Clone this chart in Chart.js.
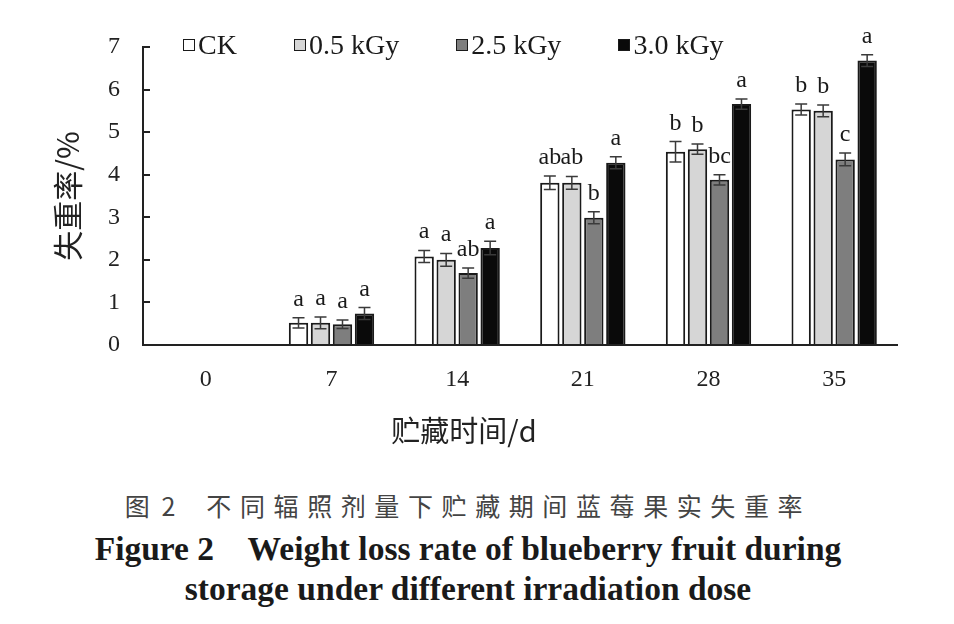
<!DOCTYPE html>
<html>
<head>
<meta charset="utf-8">
<script src="https://cdn.jsdelivr.net/npm/chart.js@4/dist/chart.umd.min.js"></script>
<style>
    body { margin: 0; background: #fff; }
    #wrap { position: relative; width: 954px; height: 624px; overflow: hidden; background: #fff; }
    #chartBox { position: absolute; left: 0; top: 0; width: 954px; height: 470px; }
    #legend { position: absolute; left: 183px; top: 29px; display: flex; gap: 57px;
        font-family: "Liberation Serif", "Times New Roman", serif; font-size: 28px; color: #1a1a1a; }
    #legend .item { display: flex; align-items: center; }
    #legend .box { width: 10px; height: 10px; border: 1.8px solid #1a1a1a; margin-right: 3px; }
    #xTitle { position: absolute; top: 408px; left: 0; width: 928px; text-align: center;
        font-family: "Noto Sans CJK SC", sans-serif; font-size: 29px; color: #222; }
    .cap { position: absolute; left: 0; width: 936px; text-align: center; white-space: nowrap; }
    #cap1 { top: 487px; font-family: "Noto Sans CJK SC", sans-serif; font-size: 25px; color: #444; letter-spacing: 8.6px; }
    #cap1 .fig { letter-spacing: 3px; margin-right: 28px; }
    #cap2, #cap3 { font-family: "Liberation Serif", "Times New Roman", serif; font-weight: bold; font-size: 33.5px; color: #1a1a1a; }
    #cap2 { top: 530px; }
    #cap3 { top: 570px; }
</style>
</head>
<body>
<div id="wrap">
    <div id="chartBox"><canvas id="weightLossChart"></canvas></div>
    <div id="legend"></div>
    <div id="xTitle">贮藏时间/d</div>
    <div class="cap" id="cap1"><span class="fig">图 2</span>不同辐照剂量下贮藏期间蓝莓果实失重率</div>
    <div class="cap" id="cap2">Figure 2&nbsp;&nbsp;&nbsp;&nbsp;Weight loss rate of blueberry fruit during</div>
    <div class="cap" id="cap3">storage under different irradiation dose</div>
</div>
<script>
    const days = ['0', '7', '14', '21', '28', '35'];
    const seriesNames = ['CK', '0.5 kGy', '2.5 kGy', '3.0 kGy'];
    const yTicks = [0, 1, 2, 3, 4, 5, 6, 7];

    const ckValues = [null, 0.52, 2.08, 3.81, 4.54, 5.53];
    const dose05Values = [null, 0.52, 2.00, 3.81, 4.60, 5.50];
    const dose25Values = [null, 0.49, 1.69, 2.99, 3.88, 4.36];
    const dose30Values = [null, 0.74, 2.28, 4.28, 5.66, 6.68];

    const ckErrors = [null, 0.12, 0.14, 0.16, 0.24, 0.13];
    const dose05Errors = [null, 0.14, 0.15, 0.15, 0.12, 0.14];
    const dose25Errors = [null, 0.10, 0.12, 0.14, 0.12, 0.15];
    const dose30Errors = [null, 0.14, 0.16, 0.14, 0.12, 0.14];

    const ckLetters = ['', 'a', 'a', 'ab', 'b', 'b'];
    const dose05Letters = ['', 'a', 'a', 'ab', 'b', 'b'];
    const dose25Letters = ['', 'a', 'ab', 'b', 'bc', 'c'];
    const dose30Letters = ['', 'a', 'a', 'a', 'a', 'a'];

    const barColors = ['#ffffff', '#d6d6d6', '#7e7e7e', '#0a0a0a'];
    const serif = '"Liberation Serif", "Times New Roman", serif';

    // error bars + significance letters on top of each bar
    const errorBarPlugin = {
        id: 'errorBars',
        afterDatasetsDraw(chart) {
            const ctx = chart.ctx;
            const yScale = chart.scales.y;
            chart.data.datasets.forEach((ds, i) => {
                const meta = chart.getDatasetMeta(i);
                meta.data.forEach((bar, j) => {
                    const v = ds.data[j];
                    if (v == null) return;
                    const e = ds.errors[j];
                    const top = yScale.getPixelForValue(v + e);
                    const bottom = yScale.getPixelForValue(v - e);
                    ctx.save();
                    ctx.strokeStyle = '#3a3a3a';
                    ctx.lineWidth = 1.5;
                    ctx.beginPath();
                    ctx.moveTo(bar.x, top);
                    ctx.lineTo(bar.x, bottom);
                    ctx.moveTo(bar.x - 6, top);
                    ctx.lineTo(bar.x + 6, top);
                    ctx.moveTo(bar.x - 6, bottom);
                    ctx.lineTo(bar.x + 6, bottom);
                    ctx.stroke();
                    ctx.fillStyle = '#1a1a1a';
                    ctx.font = '24px ' + serif;
                    ctx.textAlign = 'center';
                    ctx.textBaseline = 'alphabetic';
                    ctx.fillText(ds.letters[j], bar.x, top - 12);
                    ctx.restore();
                });
            });
        }
    };

    const datasets = [
        { label: seriesNames[0], data: ckValues, errors: ckErrors, letters: ckLetters },
        { label: seriesNames[1], data: dose05Values, errors: dose05Errors, letters: dose05Letters },
        { label: seriesNames[2], data: dose25Values, errors: dose25Errors, letters: dose25Letters },
        { label: seriesNames[3], data: dose30Values, errors: dose30Errors, letters: dose30Letters },
    ].map((ds, i) => Object.assign(ds, {
        backgroundColor: barColors[i],
        borderColor: '#1a1a1a',
        borderWidth: 2,
        barPercentage: 0.88,
        categoryPercentage: 0.70,
    }));

    const chart = new Chart(document.getElementById('weightLossChart'), {
        type: 'bar',
        data: { labels: days, datasets: datasets },
        options: {
            responsive: true,
            maintainAspectRatio: false,
            animation: false,
            layout: { padding: { top: 47, right: 57, bottom: 0, left: 50 } },
            plugins: {
                legend: { display: false },
                tooltip: { enabled: false }
            },
            scales: {
                x: {
                    grid: { display: false },
                    border: { display: true, color: '#222', width: 2 },
                    ticks: {
                        color: '#222',
                        padding: 12,
                        font: { family: serif, size: 24 }
                    },
                    afterFit: s => { s.height = 125; }
                },
                y: {
                    min: 0,
                    max: 7,
                    afterBuildTicks: s => { s.ticks = yTicks.map(v => ({ value: v })); },
                    grid: { drawOnChartArea: false, tickLength: -7, color: '#222', lineWidth: 2 },
                    border: { display: true, color: '#222', width: 2 },
                    ticks: {
                        color: '#222',
                        padding: 30,
                        font: { family: serif, size: 24 }
                    },
                    title: {
                        display: true,
                        text: '失重率/%',
                        color: '#222',
                        padding: 0,
                        font: { family: '"Noto Sans CJK SC", sans-serif', size: 30 }
                    },
                    afterFit: s => { s.width = 93; }
                }
            }
        },
        plugins: [errorBarPlugin]
    });

    // legend built from the datasets
    const legend = document.getElementById('legend');
    chart.data.datasets.forEach(ds => {
        const item = document.createElement('div');
        item.className = 'item';
        item.innerHTML = `<span class="box" style="background:${ds.backgroundColor}"></span><span>${ds.label}</span>`;
        legend.appendChild(item);
    });
</script>
</body>
</html>
